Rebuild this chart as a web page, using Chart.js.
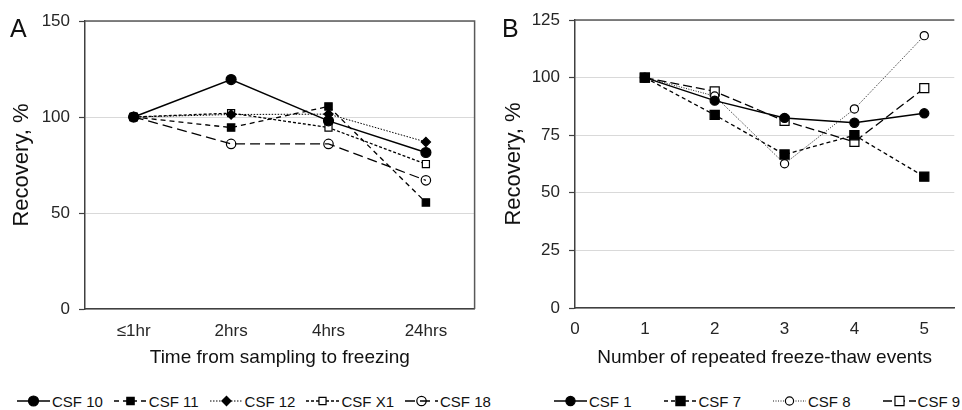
<!DOCTYPE html>
<html><head><meta charset="utf-8">
<script src="https://cdn.jsdelivr.net/npm/chart.js@4"></script>
<style>
body{margin:0;background:#fff;width:962px;height:410px;position:relative;overflow:hidden;font-family:"Liberation Sans",Arial,sans-serif;}
#cA{position:absolute;left:0;top:0}
#cB{position:absolute;left:481px;top:0}
.panel{position:absolute;font-size:25px;line-height:1;color:#111}
.legend{position:absolute;top:391px;height:20px;display:flex;align-items:center;font-size:15px;color:#111;white-space:nowrap}
.item{display:flex;align-items:center}
.item canvas{margin-right:2px}
</style></head>
<body>
<canvas id="cA" width="481" height="375"></canvas>
<canvas id="cB" width="481" height="375"></canvas>
<div class="panel" style="left:10px;top:16px">A</div>
<div class="panel" style="left:502px;top:16px">B</div>
<div class="legend" id="legA" style="left:17px;gap:11px"></div>
<div class="legend" id="legB" style="left:554px;gap:32px"></div>
<script>
// ---------- data: panel A ----------
const categoriesA = ['≤1hr', '2hrs', '4hrs', '24hrs'];
const namesA = ['CSF 10', 'CSF 11', 'CSF 12', 'CSF X1', 'CSF 18'];
const csf10 = [100, 119.5, 98, 81.5];
const csf11 = [100, 94.5, 105.5, 55.5];
const csf12 = [100, 101.3, 101.5, 87];
const csfX1 = [100, 102, 94.5, 75.5];
const csf18 = [100, 86, 86, 67];
const yTicksA = [0, 50, 100, 150];

// ---------- data: panel B ----------
const eventsB = [1, 2, 3, 4, 5];
const namesB = ['CSF 1', 'CSF 7', 'CSF 8', 'CSF 9'];
const csf1 = [100, 90, 82.5, 80.4, 84.5];
const csf7 = [100, 83.8, 66.6, 75, 57];
const csf8 = [100, 92, 62.6, 86.4, 118.2];
const csf9 = [100, 94, 81.2, 72.1, 95.4];
const yTicksB = [0, 25, 50, 75, 100, 125];
const xTicksB = [0, 1, 2, 3, 4, 5];

// ---------- styles ----------
const stylesA = [
  {dash: [], width: 1.5, point: 'circle', r: 5, fill: '#000'},
  {dash: [5, 4], width: 1.3, point: 'rect', r: 5.2, fill: '#000'},
  {dash: [1.5, 1.5], width: 1, point: 'rectRot', r: 4.6, fill: '#000'},
  {dash: [3, 2], width: 1.3, point: 'rect', r: 5, fill: '#fff'},
  {dash: [10, 5], width: 1.3, point: 'circle', r: 4.7, fill: 'rgba(0,0,0,0)'}
];
const stylesB = [
  {dash: [], width: 1.5, point: 'circle', r: 4.6, fill: '#000'},
  {dash: [4, 3], width: 1.3, point: 'rect', r: 6.5, fill: '#000'},
  {dash: [1, 1.5], width: 0.9, point: 'circle', r: 4.1, fill: '#fff'},
  {dash: [9, 4], width: 1.3, point: 'rect', r: 6.4, fill: '#fff'}
];

const FONT = '"Liberation Sans", Arial, sans-serif';
const GRID = '#d9d9d9';
const AXIS = '#404040';
const TXT = '#262626';

const frame = {
  id: 'frame',
  afterDatasetsDraw(chart, args, opts) {
    const {ctx, chartArea: {left, right, top, bottom}} = chart;
    ctx.save();
    ctx.strokeStyle = '#595959';
    ctx.lineWidth = 1.5;
    ctx.beginPath();
    ctx.moveTo(left, top);
    ctx.lineTo(right, top);
    if (opts.right) ctx.lineTo(right, bottom);
    ctx.stroke();
    ctx.restore();
  }
};

function makeDataset(label, data, st) {
  return {
    label, data,
    borderColor: '#000', borderWidth: st.width, borderDash: st.dash,
    pointStyle: st.point, pointRadius: st.r, pointHoverRadius: st.r,
    pointBackgroundColor: st.fill, pointBorderColor: '#000', pointBorderWidth: 1.2,
    fill: false, tension: 0, clip: false
  };
}

function yScale(ticks, max, width, titlePad) {
  return {
    min: 0, max: max,
    afterBuildTicks: s => { s.ticks = ticks.map(v => ({value: v})); },
    afterFit: s => { s.width = width; },
    grid: {color: GRID, lineWidth: 1, drawTicks: true, tickLength: 6, tickColor: AXIS, tickWidth: 1.2},
    border: {display: true, color: AXIS, width: 1.5},
    ticks: {font: {family: FONT, size: 17}, color: TXT, padding: 9},
    title: {display: true, text: 'Recovery, %', font: {family: FONT, size: 22}, color: '#111', padding: {top: titlePad, bottom: 0}}
  };
}

// ---------- Panel A ----------
const dataA = [csf10, csf11, csf12, csfX1, csf18];
new Chart(document.getElementById('cA'), {
  type: 'line',
  data: {
    labels: categoriesA,
    datasets: namesA.map((n, i) => makeDataset(n, dataA[i], stylesA[i]))
  },
  options: {
    responsive: false, animation: false, devicePixelRatio: 1,
    layout: {padding: {top: 21, right: 4, left: 0, bottom: 0}},
    plugins: {legend: {display: false}, tooltip: {enabled: false}, frame: {right: true}},
    scales: {
      x: {
        type: 'category', offset: true,
        afterFit: s => { s.height = 66; },
        grid: {display: false, drawTicks: false},
        border: {display: true, color: AXIS, width: 1.5},
        ticks: {font: {family: FONT, size: 17}, color: TXT, padding: 12},
        title: {display: true, text: 'Time from sampling to freezing', font: {family: FONT, size: 19}, color: '#111', padding: {top: 0, bottom: 6}}
      },
      y: yScale(yTicksA, 150, 85, 9)
    }
  },
  plugins: [frame]
});

// ---------- Panel B ----------
const dataB = [csf1, csf7, csf8, csf9];
new Chart(document.getElementById('cB'), {
  type: 'line',
  data: {
    datasets: namesB.map((n, i) => makeDataset(n, eventsB.map((x, k) => ({x: x, y: dataB[i][k]})), stylesB[i]))
  },
  options: {
    responsive: false, animation: false, devicePixelRatio: 1,
    layout: {padding: {top: 20, right: 0, left: 0, bottom: 0}},
    plugins: {legend: {display: false}, tooltip: {enabled: false}, frame: {right: false}},
    scales: {
      x: {
        type: 'linear', min: 0, max: 5.43,
        afterBuildTicks: s => { s.ticks = xTicksB.map(v => ({value: v})); },
        afterFit: s => { s.height = 67; },
        grid: {display: false, drawTicks: false},
        border: {display: true, color: AXIS, width: 1.5},
        ticks: {font: {family: FONT, size: 17}, color: TXT, padding: 11},
        title: {display: true, text: 'Number of repeated freeze-thaw events', font: {family: FONT, size: 19}, color: '#111', padding: {top: 0, bottom: 6}}
      },
      y: yScale(yTicksB, 125, 94, 20)
    }
  },
  plugins: [frame]
});

// ---------- HTML legends ----------
function drawIcon(st) {
  const c = document.createElement('canvas');
  c.width = 33; c.height = 16;
  const ctx = c.getContext('2d');
  ctx.strokeStyle = '#000';
  ctx.lineWidth = st.width;
  ctx.setLineDash(st.dash);
  ctx.beginPath();
  ctx.moveTo(0, 8); ctx.lineTo(33, 8);
  ctx.stroke();
  ctx.setLineDash([]);
  ctx.fillStyle = st.fill;
  ctx.lineWidth = 1.2;
  Chart.helpers.drawPoint(ctx, {pointStyle: st.point, rotation: 0, radius: st.r, borderWidth: 1.2}, 16.5, 8);
  return c;
}
function buildLegend(id, names, styles) {
  const el = document.getElementById(id);
  names.forEach((n, i) => {
    const it = document.createElement('span');
    it.className = 'item';
    it.appendChild(drawIcon(styles[i]));
    const t = document.createElement('span');
    t.textContent = n;
    it.appendChild(t);
    el.appendChild(it);
  });
}
buildLegend('legA', namesA, stylesA);
buildLegend('legB', namesB, stylesB);
</script>
</body></html>
